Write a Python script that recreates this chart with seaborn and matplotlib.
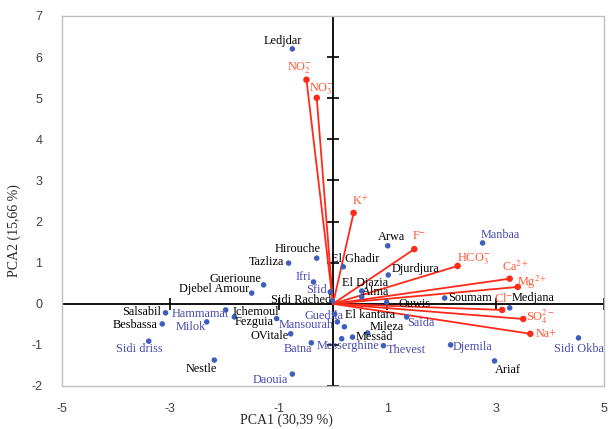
import matplotlib
matplotlib.use("Agg")
import matplotlib.pyplot as plt
import seaborn as sns
import pandas as pd
import numpy as np

# ---- data ----
sample_names = ["Ledjdar", "Manbaa", "Arwa", "Hirouche", "Tazliza", "El Ghadir", "Ifri", "Sfid",
                "Djurdjura", "Guerioune", "Djebel Amour", "El Djazia", "Alma", "Sidi Rached", "Ouwis",
                "Soumam", "Medjana", "Salsabil", "Besbassa", "Sidi driss", "Nestle", "Hammamat",
                "Milok", "Ichemoul", "Fezguia", "Mansourah", "Guedila", "El kantara", "OVitale",
                "Mileza", "Messâd", "Messerghine", "Batna", "Thevest", "Saida", "Djemila",
                "Sidi Okba", "Ariaf", "Daouia"]
sample_pc1 = [-0.75, 2.76, 1.01, -0.30, -0.82, 0.19, -0.36, -0.05,
              1.02, -1.28, -1.50, 0.53, 0.53, -0.01, 0.99,
              2.06, 3.26, -3.09, -3.15, -3.40, -2.19, -1.98,
              -2.33, -1.82, -1.04, 0.08, 0.03, 0.21, -0.78,
              0.64, 0.36, 0.16, -0.40, 0.93, 1.36, 2.17,
              4.53, 2.98, -0.75]
sample_pc2 = [6.20, 1.48, 1.41, 1.11, 0.99, 0.90, 0.53, 0.29,
              0.70, 0.46, 0.26, 0.31, 0.17, 0.07, 0.04,
              0.14, -0.10, -0.22, -0.49, -0.91, -1.37, -0.15,
              -0.44, -0.32, -0.36, -0.44, -0.25, -0.56, -0.73,
              -0.71, -0.81, -0.85, -0.95, -1.02, -0.32, -1.00,
              -0.83, -1.39, -1.71]
blue_label_names = ["Manbaa", "Ifri", "Sfid", "Hammamat", "Milok", "Sidi driss", "Guedila",
                    "Mansourah", "Batna", "Messerghine", "Thevest", "Saida", "Djemila",
                    "Sidi Okba", "Daouia"]

var_names = [r"NO$_2^{-}$", r"NO$_3^{-}$", r"K$^{+}$", r"F$^{-}$", r"HCO$_3^{-}$",
             r"Ca$^{2+}$", r"Mg$^{2+}$", r"Cl$^{-}$", r"SO$_4^{2-}$", "Na+"]
var_pc1 = [-0.49, -0.30, 0.38, 1.50, 2.30, 3.26, 3.41, 3.12, 3.51, 3.64]
var_pc2 = [5.45, 5.01, 2.21, 1.33, 0.92, 0.61, 0.41, -0.15, -0.37, -0.73]

x_ticks = [-5, -3, -1, 1, 3, 5]
y_ticks = [-2, -1, 0, 1, 2, 3, 4, 5, 6, 7]
x_title = "PCA1 (30,39 %)"
y_title = "PCA2 (15,66 %)"

# ---- label offsets (pixels, style only) ----
sample_offsets = {
    "Ledjdar": (-10, 8), "Manbaa": (18, 8), "Arwa": (4, 9), "Hirouche": (-19, 9),
    "Tazliza": (-22, 1), "El Ghadir": (12, 8), "Ifri": (-10, 5), "Sfid": (-14, 2),
    "Djurdjura": (27, 6), "Guerioune": (-28, 6), "Djebel Amour": (-38, 4),
    "El Djazia": (3, 8), "Alma": (14, 5), "Sidi Rached": (-31, 1), "Ouwis": (28, -2),
    "Soumam": (25, 0), "Medjana": (23, 10), "Salsabil": (-24, 1), "Besbassa": (-27, -1),
    "Sidi driss": (-9, -8), "Nestle": (-13, -9), "Hammamat": (-25, -4), "Milok": (-16, -5),
    "Ichemoul": (21, 5), "Fezguia": (-22, -3), "Mansourah": (-31, -3), "Guedila": (-11, -2),
    "El kantara": (26, 12), "OVitale": (-21, -2), "Mileza": (19, 6), "Messâd": (22, 0),
    "Messerghine": (6, -7), "Batna": (-13, -6), "Thevest": (23, -4), "Saida": (14, -6),
    "Djemila": (22, -2), "Sidi Okba": (0, -11), "Ariaf": (13, -9), "Daouia": (-22, -6),
}
var_offsets = [(-7, 12), (5, 9), (7, 12), (5, 13), (16, 7), (6, 12), (14, 5), (1, 11), (17, 2), (16, 0)]

# ---- styling ----
sns.set_style("white")
plt.rcParams["font.family"] = ["Liberation Serif", "DejaVu Serif"]
plt.rcParams["mathtext.fontset"] = "stix"
plt.rcParams["axes.unicode_minus"] = False

dot_color = "#3F5FBF"
blue_text = "#4A4AAE"
red_line = "#FF2A1A"
red_text = "#FF5533"

fig = plt.figure(figsize=(6.09, 4.29), dpi=100)
ax = fig.add_axes([62 / 609, 43 / 429, 542 / 609, 370 / 429])

samples = pd.DataFrame({"name": sample_names, "PC1": sample_pc1, "PC2": sample_pc2})
rows = []
for n, x, y in zip(var_names, var_pc1, var_pc2):
    rows.append({"var": n, "PC1": 0.0, "PC2": 0.0, "order": 0})
    rows.append({"var": n, "PC1": x, "PC2": y, "order": 1})
vec = pd.DataFrame(rows)
tips = pd.DataFrame({"var": var_names, "PC1": var_pc1, "PC2": var_pc2})

# crossing axes at zero
ax.axhline(0, color="black", lw=1.3, zorder=1)
ax.axvline(0, color="black", lw=1.3, zorder=1)
ax.plot(x_ticks, [0] * len(x_ticks), ls="none", marker="|", ms=8, mew=1.2, color="black", zorder=1)
ax.plot([0] * len(y_ticks), y_ticks, ls="none", marker="_", ms=8, mew=1.2, color="black", zorder=1)

sns.lineplot(data=vec, x="PC1", y="PC2", units="var", estimator=None, sort=False,
             color=red_line, lw=1.3, ax=ax, zorder=3)
sns.scatterplot(data=tips, x="PC1", y="PC2", color=red_line, s=22, edgecolor="none", ax=ax, zorder=4)
sns.scatterplot(data=samples, x="PC1", y="PC2", color=dot_color, s=16, edgecolor="none", ax=ax, zorder=4)

for n, x, y in zip(sample_names, sample_pc1, sample_pc2):
    dx, dy = sample_offsets[n]
    c = blue_text if n in blue_label_names else "black"
    ax.annotate(n, (x, y), xytext=(dx, dy), textcoords="offset pixels",
                ha="center", va="center", fontsize=8.8, color=c, zorder=5)

for n, x, y, (dx, dy) in zip(var_names, var_pc1, var_pc2, var_offsets):
    ax.annotate(n, (x, y), xytext=(dx, dy), textcoords="offset pixels",
                ha="center", va="center", fontsize=8.8, color=red_text, zorder=5)

ax.set_xlim(-5, 5)
ax.set_ylim(-2, 7)
ax.set_xticks(x_ticks)
ax.set_yticks(y_ticks)
ax.tick_params(length=0, labelsize=9, colors="#404040", pad=14)
for lab in ax.get_xticklabels() + ax.get_yticklabels():
    lab.set_family(["Liberation Sans", "DejaVu Sans"])
ax.tick_params(axis="x", pad=12)

for sp in ax.spines.values():
    sp.set_visible(True)
    sp.set_color("#BFBFBF")
    sp.set_linewidth(1.0)

ax.set_xlabel(x_title, fontsize=10)
ax.set_ylabel(y_title, fontsize=10)
ax.xaxis.label.set_va("center")
ax.xaxis.set_label_coords(0.415, -0.092)
ax.yaxis.set_label_coords(-0.075, 0.42)
ax.grid(False)

fig.savefig("out.png", dpi=100)
